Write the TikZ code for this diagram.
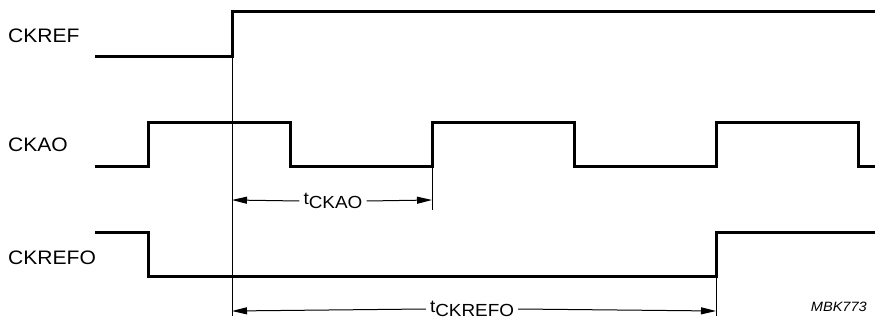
\documentclass[tikz,border=0pt]{standalone}
\usepackage{fontspec}
\setmainfont[FakeStretch=1.08]{Liberation Sans}
\usetikzlibrary{arrows.meta,positioning}

% timing parameter: t with lowered index
\newcommand{\tparam}[1]{t\raisebox{-0.45ex}{#1}}

\begin{document}
\begin{tikzpicture}[x=1pt, y=-1pt,
    signal/.style={line width=3pt, line join=miter},
    guide/.style={line width=1pt},
    dimarrow/.style={line width=1pt, -{Triangle[length=15pt, width=7pt]}},
    siglabel/.style={anchor=west, inner sep=0pt, font=\fontsize{19.5}{21}\selectfont},
    tlabel/.style={inner xsep=4pt, inner ysep=0pt, font=\fontsize{17.5}{19}\selectfont}]
    \useasboundingbox (0,0) rectangle (875,320);

    % Signal names
    \node[siglabel] (ckref)  at (8,36)  {CKREF};
    \node[siglabel] (ckao)   at (8,145) {CKAO};
    \node[siglabel] (ckrefo) at (8,258) {CKREFO};

    % Waveforms
    \draw[signal] (95,57) -- (232,57) -- (232,12) -- (875,12);
    \draw[signal] (95,167) -- (148,167) -- (148,123) -- (290,123) -- (290,167)
        -- (432,167) -- (432,123) -- (574,123) -- (574,167) -- (716,167)
        -- (716,123) -- (858,123) -- (858,167) -- (875,167);
    \draw[signal] (95,233) -- (148,233) -- (148,277) -- (716,277) -- (716,233) -- (875,233);

    % Reference edge and end markers
    \coordinate (edge) at (232,57);
    \coordinate (edge end) at (232,316);
    \draw[guide] (edge) -- (edge end);
    \draw[guide] (432,167) -- (432,210);
    \draw[guide] (716,277) -- (716,316);

    % t_CKAO
    \coordinate (ckao start) at (232,200);
    \coordinate (ckao stop) at (432,200);
    \node[tlabel] (tckao) at (333,201) {\tparam{CKAO}};
    \draw[dimarrow] (tckao.west) -- (ckao start);
    \draw[dimarrow] (tckao.east) -- (ckao stop);

    % t_CKREFO
    \coordinate (ckrefo start) at (232,311);
    \coordinate (ckrefo stop) at (716,311);
    \node[tlabel] (tckrefo) at (472,309) {\tparam{CKREFO}};
    \draw[dimarrow] (tckrefo.west) -- (ckrefo start);
    \draw[dimarrow] (tckrefo.east) -- (ckrefo stop);

    % Figure code
    \node[anchor=east, inner sep=0pt, font=\fontsize{13.5}{15}\selectfont\itshape] (code) at (867,307) {MBK773};
\end{tikzpicture}
\end{document}
